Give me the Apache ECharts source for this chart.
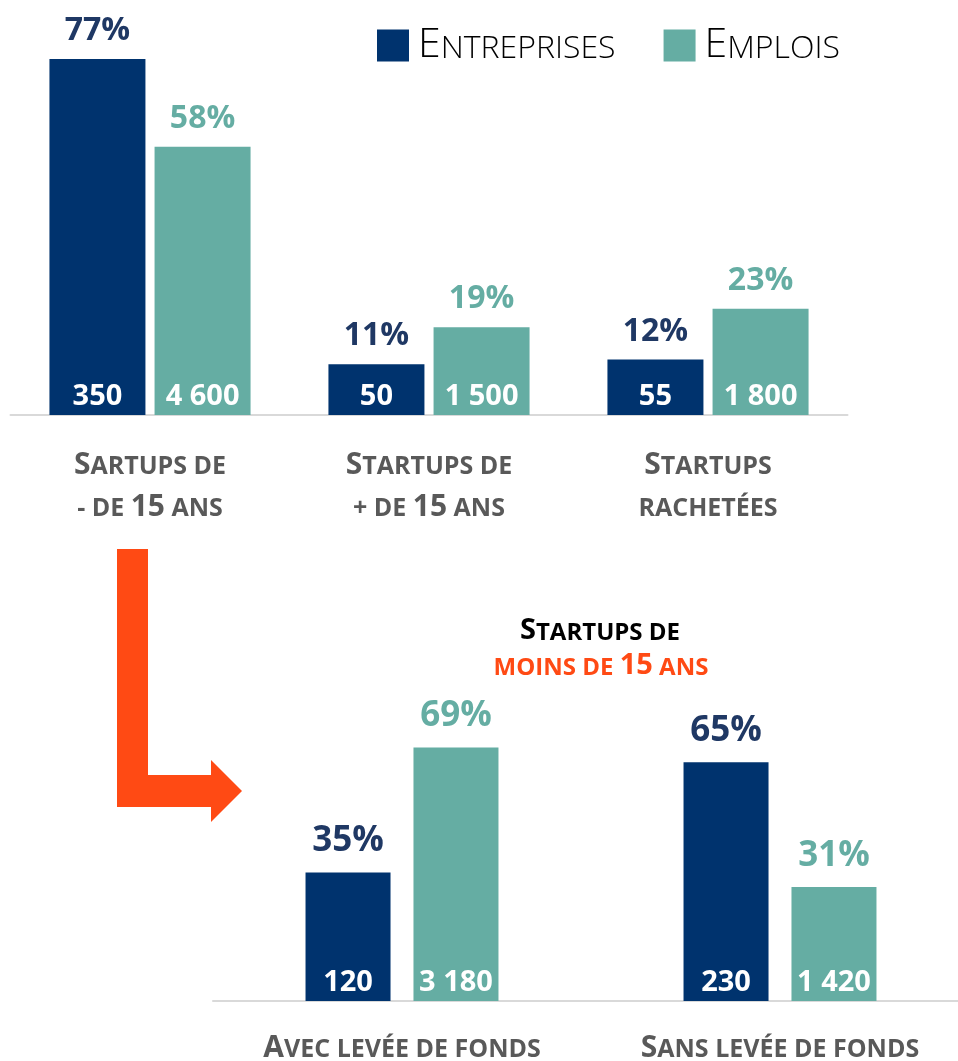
<!DOCTYPE html>
<html>
<head>
<meta charset="utf-8">
<script src="https://cdn.jsdelivr.net/npm/echarts@6/dist/echarts.min.js"></script>
<style>
  html, body { margin: 0; padding: 0; background: #fff; }
  #chart { width: 958px; height: 1061px; }
</style>
</head>
<body>
<div id="chart"></div>
<script>
// data
var topCategories = ['Sartups de\n- de 15 ans', 'Startups de\n+ de 15 ans', 'Startups\nrachetées'];
var topCompanyPct = [77, 11, 12];
var topCompanyCount = [350, 50, 55];
var topJobsPct = [58, 19, 23];
var topJobsCount = [4600, 1500, 1800];

var bottomCategories = ['Avec levée de fonds', 'Sans levée de fonds'];
var bottomCompanyPct = [35, 65];
var bottomCompanyCount = [120, 230];
var bottomJobsPct = [69, 31];
var bottomJobsCount = [3180, 1420];

var NAVY = '#00336E', NAVY_TXT = '#1F3864', TEAL = '#65ADA3', GREY = '#595959', ORANGE = '#FF4A14';
var FONT = '"Open Sans", "Noto Sans", sans-serif';

// turns "Startups de" into rich text: capitals & digits big, the rest as small capitals
function smallCaps(text) {
  return text.split('\n').map(function (line) {
    var out = '', cur = null, buf = '';
    for (var i = 0; i < line.length; i++) {
      var ch = line[i];
      var big = /[0-9]/.test(ch) || (ch !== ch.toLowerCase());
      var t = big ? 'b' : 's';
      if (t !== cur && buf) { out += '{' + cur + '|' + buf + '}'; buf = ''; }
      cur = t;
      buf += ch.toUpperCase();
    }
    if (buf) out += '{' + cur + '|' + buf + '}';
    return out;
  }).join('\n');
}

function fmt(n) {
  return String(n).replace(/\B(?=(\d{3})+(?!\d))/g, ' ');
}

// small tokens get a bit of top padding so both sizes sit on the same baseline
function capsRich(color, big, small, lh) {
  var shift = Math.round((big - small) * 0.7);
  return {
    b: { fontSize: big, fontWeight: 'bold', color: color, fill: color, fontFamily: FONT, lineHeight: lh },
    s: { fontSize: small, fontWeight: 'bold', color: color, fill: color, fontFamily: FONT, lineHeight: lh,
         padding: [shift, 0, 0, 0] }
  };
}

function countLabel(counts) {
  return {
    show: true, position: 'insideBottom', distance: 4,
    color: '#fff', fontSize: 29, fontWeight: 'bold', fontFamily: FONT,
    formatter: function (p) { return fmt(counts[p.dataIndex]); }
  };
}

function pctLabel(color, size, dist) {
  return {
    show: true, position: 'top', distance: dist,
    color: color, fontSize: size, fontWeight: 'bold', fontFamily: FONT,
    formatter: '{c}%'
  };
}

var chart = echarts.init(document.getElementById('chart'));

var axisBase = {
  type: 'category',
  axisTick: { show: false },
  axisLine: { lineStyle: { color: '#D9D9D9', width: 2 } }
};

var option = {
  animation: false,
  legend: {
    data: ['Entreprises', 'Emplois'],
    left: 372, top: 20,
    icon: 'rect', itemWidth: 32, itemHeight: 32, itemGap: 48,
    formatter: function (name) { return smallCaps(name); },
    textStyle: {
      padding: [0, 0, 0, 4],
      rich: {
        b: { fontSize: 41, color: '#000', fontFamily: FONT, fontWeight: 300, lineHeight: 40 },
        s: { fontSize: 32, color: '#000', fontFamily: FONT, fontWeight: 300, lineHeight: 40,
             padding: [6, 0, 0, 0] }
      }
    }
  },
  grid: [
    { left: 10.5, width: 837, top: 45, height: 370, outerBoundsMode: 'none' },
    { left: 213, width: 756, top: 707, height: 294, outerBoundsMode: 'none' }
  ],
  xAxis: [
    Object.assign({}, axisBase, {
      gridIndex: 0, data: topCategories,
      axisLabel: {
        margin: 29, interval: 0,
        formatter: function (v) { return smallCaps(v); },
        rich: capsRich(GREY, 30, 25, 42)
      }
    }),
    Object.assign({}, axisBase, {
      gridIndex: 1, data: bottomCategories,
      axisLabel: {
        margin: 27, interval: 0,
        formatter: function (v) { return smallCaps(v); },
        rich: capsRich(GREY, 30, 25, 40)
      }
    }),
    { type: 'category', gridIndex: 0, data: topCategories, show: false },
    { type: 'category', gridIndex: 1, data: bottomCategories, show: false }
  ],
  yAxis: [
    { type: 'value', gridIndex: 0, min: 0, max: 80, show: false, splitLine: { show: false } },
    { type: 'value', gridIndex: 1, min: 0, max: 80, show: false, splitLine: { show: false } }
  ],
  series: [
    // top grid
    { name: 'Entreprises', type: 'bar', xAxisIndex: 0, yAxisIndex: 0, data: topCompanyPct,
      barWidth: 96, barGap: '9.5%', itemStyle: { color: NAVY }, label: countLabel(topCompanyCount) },
    { name: 'Emplois', type: 'bar', xAxisIndex: 0, yAxisIndex: 0, data: topJobsPct,
      barWidth: 96, barGap: '9.5%', itemStyle: { color: TEAL }, label: countLabel(topJobsCount) },
    { name: 'pctE1', type: 'bar', xAxisIndex: 2, yAxisIndex: 0, data: topCompanyPct, silent: true,
      barWidth: 96, barGap: '9.5%', itemStyle: { color: 'transparent' }, label: pctLabel(NAVY_TXT, 32, 12) },
    { name: 'pctJ1', type: 'bar', xAxisIndex: 2, yAxisIndex: 0, data: topJobsPct, silent: true,
      barWidth: 96, barGap: '9.5%', itemStyle: { color: 'transparent' }, label: pctLabel(TEAL, 32, 12) },
    // bottom grid
    { name: 'Entreprises', type: 'bar', xAxisIndex: 1, yAxisIndex: 1, data: bottomCompanyPct,
      barWidth: 85, barGap: '27%', itemStyle: { color: NAVY }, label: countLabel(bottomCompanyCount) },
    { name: 'Emplois', type: 'bar', xAxisIndex: 1, yAxisIndex: 1, data: bottomJobsPct,
      barWidth: 85, barGap: '27%', itemStyle: { color: TEAL }, label: countLabel(bottomJobsCount) },
    { name: 'pctE2', type: 'bar', xAxisIndex: 3, yAxisIndex: 1, data: bottomCompanyPct, silent: true,
      barWidth: 85, barGap: '27%', itemStyle: { color: 'transparent' }, label: pctLabel(NAVY_TXT, 35, 14) },
    { name: 'pctJ2', type: 'bar', xAxisIndex: 3, yAxisIndex: 1, data: bottomJobsPct, silent: true,
      barWidth: 85, barGap: '27%', itemStyle: { color: 'transparent' }, label: pctLabel(TEAL, 35, 14) }
  ],
  graphic: [
    { type: 'polygon', shape: { points: [[117, 549], [148, 549], [148, 775], [211, 775], [211, 760],
        [242, 791], [211, 822], [211, 807], [117, 807]] }, style: { fill: ORANGE } },
    { type: 'text', x: 600, y: 631,
      style: { text: smallCaps('Startups de'), align: 'center', verticalAlign: 'middle',
        rich: capsRich('#000', 29, 24, 34) } },
    { type: 'text', x: 601, y: 666,
      style: { text: smallCaps('moins de 15 ans'), align: 'center', verticalAlign: 'middle',
        rich: capsRich(ORANGE, 29, 24, 34) } }
  ]
};

chart.setOption(option);
</script>
</body>
</html>
